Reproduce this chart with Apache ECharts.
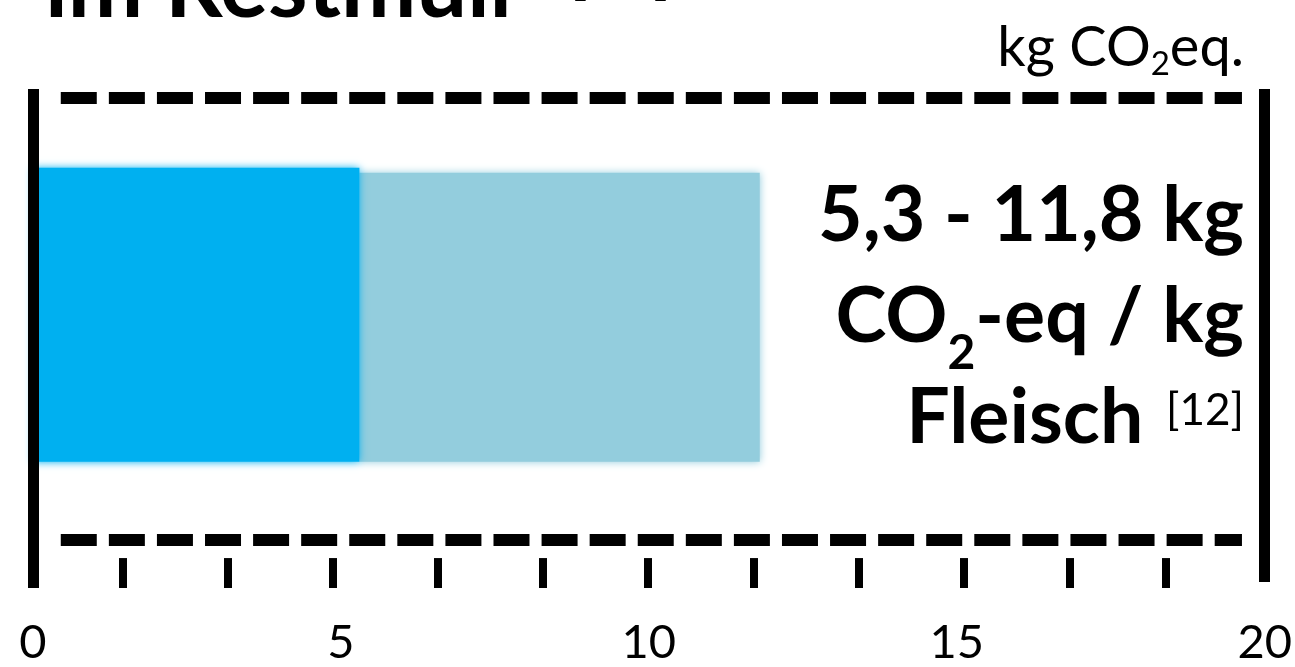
<!DOCTYPE html>
<html>
<head>
<meta charset="utf-8">
<script src="https://cdn.jsdelivr.net/npm/echarts@6/dist/echarts.min.js"></script>
<style>
  html, body { margin: 0; padding: 0; background: #ffffff; }
  #chart { width: 1295px; height: 667px; }
</style>
</head>
<body>
<div id="chart"></div>
<script>
// Greenhouse-gas range per kg of meat (kg CO2-eq)
const rangeLow = 5.3;
const rangeHigh = 11.8;
const segmentStarts = [0, rangeLow];
const segmentEnds = [rangeLow, rangeHigh];
const axisLabelsShown = [0, 5, 10, 15, 20];
const scaleMarks = [1.45, 3.16, 4.87, 6.58, 8.28, 9.98, 11.70, 13.41, 15.12, 16.84, 18.39];
const titleText = 'im Restmüll';
const titleRef = '[11]';
const sourceRef = '[12]';

// styling
const FONT = 'Lato';
const segmentFill = ['#00B0F0', '#93CDDD'];

// vertical frame, in units of the hidden 0..100 y scale (0 = top)
const FRAME = {
  dashTop: 1.8, dashBottom: 90.3,
  barTop: [15.6, 16.6], barBottom: 74.9,
  markTop: 94.0, markBottom: 100,
  rightEnd: 98.8,
  dashStart: 0.451, dashEnd: 19.63
};

const fmt = v => v.toFixed(1).replace('.', ',');

const chart = echarts.init(document.getElementById('chart'), null, { renderer: 'canvas' });

const segData = segmentStarts.map((s, i) => [s, segmentEnds[i]]);
const axisMax = axisLabelsShown[axisLabelsShown.length - 1];

const frameLines = [
  [{ coord: [0, 0] }, { coord: [0, 100] }],
  [{ coord: [axisMax, 0] }, { coord: [axisMax, FRAME.rightEnd] }]
];
const dashLines = [FRAME.dashTop, FRAME.dashBottom].map(y => [
  { coord: [FRAME.dashStart, y] }, { coord: [FRAME.dashEnd, y] }
]);
const markLines = scaleMarks.map(m => [
  { coord: [m, FRAME.markTop] }, { coord: [m, FRAME.markBottom] }
]);

const baseMarkLine = {
  silent: true,
  animation: false,
  symbol: ['none', 'none'],
  label: { show: false },
  emphasis: { disabled: true }
};

chart.setOption({
  backgroundColor: '#ffffff',
  animation: false,
  title: [
    {
      left: 45, top: -67, padding: 0,
      text: `{t|${titleText}}{s|${titleRef}}`,
      textStyle: {
        rich: {
          t: { fontFamily: FONT, fontWeight: 'bold', fontSize: 90, lineHeight: 110, color: '#000' },
          s: { fontFamily: FONT, fontWeight: 'normal', fontSize: 57, lineHeight: 110, color: '#000', padding: [0, 0, 26, 58] }
        }
      }
    },
    {
      left: 1244, top: 20, padding: 0, textAlign: 'right',
      text: '{u|kg CO}{d|2}{u|eq.}',
      textStyle: {
        rich: {
          u: { fontFamily: FONT, fontWeight: 'normal', fontSize: 56, lineHeight: 56, color: '#000' },
          d: { fontFamily: FONT, fontWeight: 'normal', fontSize: 33, lineHeight: 56, color: '#000', padding: [33, 0, 0, 0] }
        }
      }
    },
    {
      left: 1244, top: 166, padding: 0, textAlign: 'right',
      text: [
        `{b|${fmt(rangeLow)} - ${fmt(rangeHigh)} kg}`,
        '{b|CO}{bs|2}{b|-eq / kg}',
        `{b|Fleisch }{sup|${sourceRef}}`
      ].join('\n'),
      textStyle: {
        rich: {
          b: { fontFamily: FONT, fontWeight: 'bold', fontSize: 77, lineHeight: 101, color: '#000' },
          bs: { fontFamily: FONT, fontWeight: 'bold', fontSize: 48, lineHeight: 101, color: '#000', padding: [72, 0, 0, 0] },
          sup: { fontFamily: FONT, fontWeight: 'normal', fontSize: 44, lineHeight: 101, color: '#000', padding: [0, 0, 16, 4] }
        }
      }
    }
  ],
  grid: { left: 33, right: 21, top: 89, bottom: 79, containLabel: false },
  xAxis: {
    type: 'value',
    min: 0, max: axisMax, interval: 5,
    axisLine: { show: false },
    axisTick: { show: false },
    splitLine: { show: false },
    axisLabel: {
      show: true,
      margin: 31,
      fontFamily: FONT, fontSize: 47, lineHeight: 47, color: '#000',
      showMinLabel: true, showMaxLabel: true,
      formatter: v => (axisLabelsShown.includes(v) ? String(v) : '')
    }
  },
  yAxis: {
    type: 'value', min: 0, max: 100, inverse: true, show: false
  },
  series: [
    {
      type: 'custom',
      name: 'Fleisch',
      z: 2,
      encode: { x: [0, 1] },
      data: segData.slice().reverse(),
      renderItem: (params, api) => {
        const idx = segData.length - 1 - params.dataIndex;
        const p0 = api.coord([api.value(0), FRAME.barTop[idx]]);
        const p1 = api.coord([api.value(1), FRAME.barBottom]);
        return {
          type: 'rect',
          shape: { x: p0[0], y: p0[1] + 1, width: p1[0] - p0[0], height: p1[1] - p0[1] - 2 },
          style: { fill: segmentFill[idx], shadowBlur: 8, shadowColor: segmentFill[idx] }
        };
      }
    },
    {
      type: 'line',
      data: [],
      z: 5,
      markLine: Object.assign({}, baseMarkLine, {
        lineStyle: { color: '#000', width: 11, type: 'solid', cap: 'butt' },
        data: frameLines
      })
    },
    {
      type: 'line',
      data: [],
      z: 5,
      markLine: Object.assign({}, baseMarkLine, {
        lineStyle: { color: '#000', width: 12, type: [36, 12.08], cap: 'butt' },
        data: dashLines
      })
    },
    {
      type: 'line',
      data: [],
      z: 5,
      markLine: Object.assign({}, baseMarkLine, {
        lineStyle: { color: '#000', width: 8, type: 'solid', cap: 'butt' },
        data: markLines
      })
    }
  ]
});
</script>
</body>
</html>
